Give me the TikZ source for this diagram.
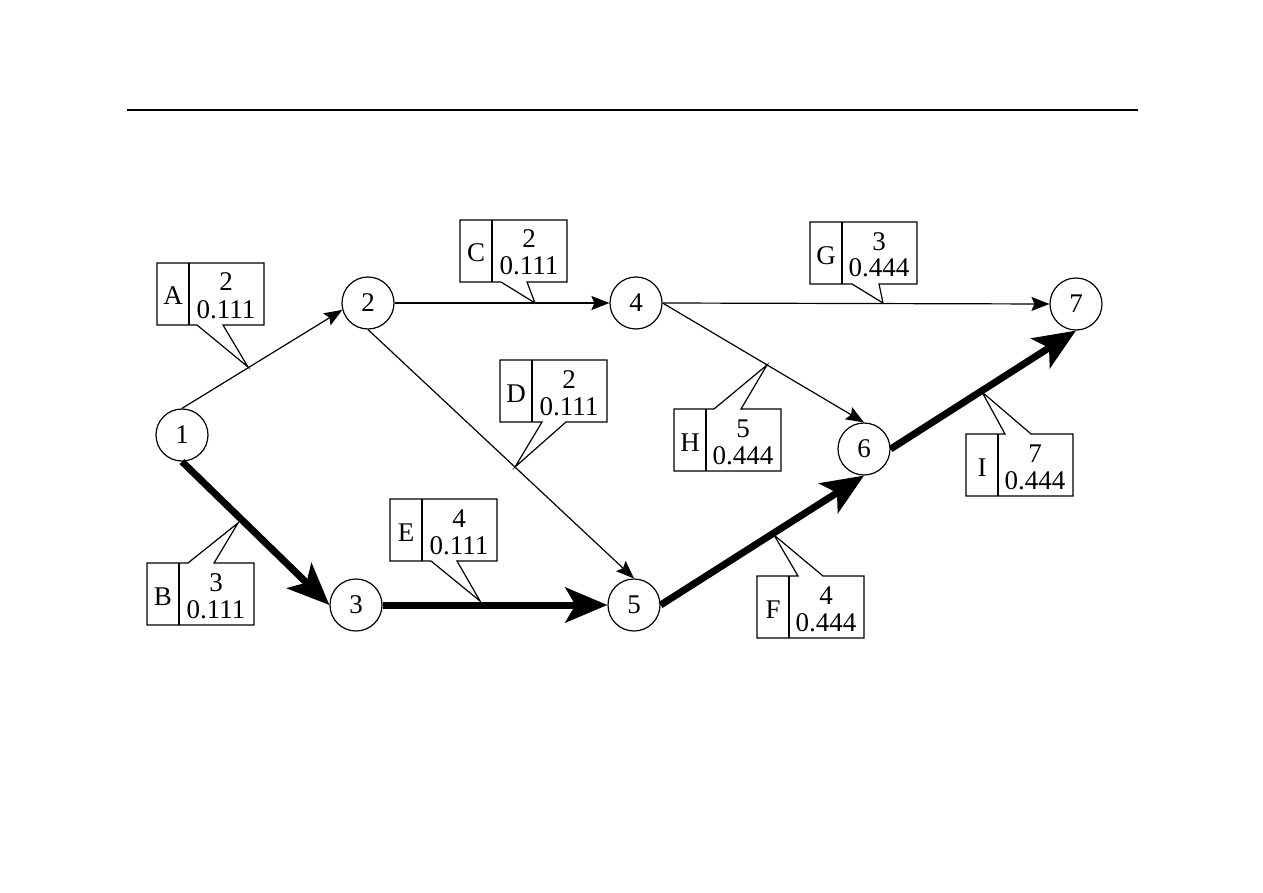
\documentclass[tikz,border=0pt]{standalone}
\usepackage{fontspec}
\setmainfont{Liberation Serif}
\usetikzlibrary{arrows.meta}
\tikzset{
  event/.style={circle,draw,line width=0.6pt,minimum size=26pt,inner sep=0pt,font=\fontsize{13.5}{13.5}\selectfont},
  lightarc/.style={line width=0.6pt,-{Stealth[length=9pt,width=7pt,inset=1.5pt]}},
  heavyarc/.style={line width=3.5pt,-{Stealth[length=21pt,width=17.5pt,inset=5pt]}},
  callbox/.style={line width=0.6pt,fill=white,line join=miter},
  lab/.style={anchor=base,inner sep=0pt,font=\fontsize{13.5}{13.5}\selectfont},
}
% bottom-wedge callout: #1 name, #2 left, #3 top, #4 letter, #5 number, #6 decimal, #7 wedge left x, #8 wedge right x, #9 pointer
\newcommand\calloutB[9]{%
  \draw[callbox] (#7,#3+62) -- (#2,#3+62) -- (#2,#3) -- (#2+107,#3) -- (#2+107,#3+62) -- (#8,#3+62) -- (#9) -- cycle;
  \draw[callbox] (#2+32,#3) -- (#2+32,#3+62);
  \node[lab] (#1-let) at (#2+16,#3+42) {#4};
  \node[lab] (#1-num) at (#2+69,#3+28) {#5};
  \node[lab] (#1-dec) at (#2+69,#3+55) {#6};
}
% top-wedge callout
\newcommand\calloutT[9]{%
  \draw[callbox] (#7,#3) -- (#2,#3) -- (#2,#3+62) -- (#2+107,#3+62) -- (#2+107,#3) -- (#8,#3) -- (#9) -- cycle;
  \draw[callbox] (#2+32,#3) -- (#2+32,#3+62);
  \node[lab] (#1-let) at (#2+16,#3+42) {#4};
  \node[lab] (#1-num) at (#2+69,#3+28) {#5};
  \node[lab] (#1-dec) at (#2+69,#3+55) {#6};
}
\begin{document}
\begin{tikzpicture}[x=0.5pt,y=-0.5pt]
\useasboundingbox (0,0) rectangle (1263,893);
\draw[line width=0.6pt] (127,110) -- (1138,110);

% events
\node[event] (n1) at (182,435) {1};
\node[event] (n2) at (368,303) {2};
\node[event] (n3) at (356,605) {3};
\node[event] (n4) at (636,303) {4};
\node[event] (n5) at (634,605) {5};
\node[event] (n6) at (864,449) {6};
\node[event] (n7) at (1076,304) {7};

% pointer targets on the arcs
\coordinate (pA) at (248,367);
\coordinate (pB) at (238,523);
\coordinate (pC) at (535,303);
\coordinate (pD) at (515,467);
\coordinate (pE) at (480,601);
\coordinate (pF) at (774,535);
\coordinate (pG) at (883,303);
\coordinate (pH) at (767,365);
\coordinate (pI) at (982,392);

% callouts
\calloutB{cA}{157}{263}{A}{2}{0.111}{197}{223}{pA}
\calloutT{cB}{147}{563}{B}{3}{0.111}{188}{214}{pB}
\calloutB{cC}{460}{220}{C}{2}{0.111}{501}{527}{pC}
\calloutB{cD}{500}{360}{D}{2}{0.111}{542}{566}{pD}
\calloutB{cE}{390}{499}{E}{4}{0.111}{431}{457}{pE}
\calloutT{cF}{757}{576}{F}{4}{0.444}{798}{823}{pF}
\calloutB{cG}{810}{222}{G}{3}{0.444}{852}{879}{pG}
\calloutT{cH}{674}{409}{H}{5}{0.444}{714}{741}{pH}
\calloutT{cI}{966}{434}{I}{7}{0.444}{1005}{1031}{pI}

% arcs
\draw[lightarc] (n1.north) -- (n2.195);
\draw[lightarc] (n2.east) -- (n4.west);
\draw[lightarc] (n2.south) -- (n5.north);
\draw[lightarc] (n4.east) -- (n7.west);
\draw[lightarc] (n4.east) -- (n6.north);
\draw[heavyarc] (n1.south) -- (n3.west);
\draw[heavyarc] (n3.east) -- (n5.west);
\draw[heavyarc] (n5.east) -- (n6.south);
\draw[heavyarc] (n6.east) -- (n7.south);
\end{tikzpicture}
\end{document}
